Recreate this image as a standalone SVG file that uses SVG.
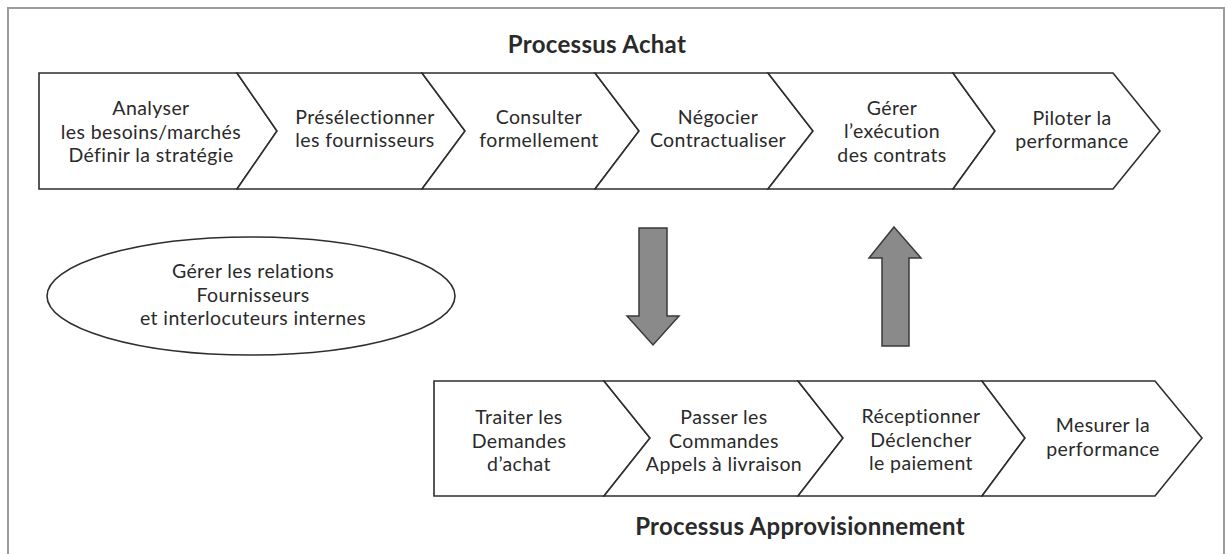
<svg xmlns="http://www.w3.org/2000/svg" width="1227" height="554" viewBox="0 0 1227 554">
<style>
.frame{fill:none;stroke:#9c9c9c;stroke-width:2}
.chev{fill:#fff;stroke:#2e2e2e;stroke-width:1.6;stroke-linejoin:miter}
.ell{fill:#fff;stroke:#2e2e2e;stroke-width:1.6}
.big{fill:#8a8a8a;stroke:#3a3a3a;stroke-width:1.5;stroke-linejoin:miter}
text{font-family:Lato,"Open Sans","Liberation Sans",sans-serif;fill:#2a2a2a;text-anchor:middle}
.t{font-size:19.5px;letter-spacing:0.4px}
.h{font-size:24px;font-weight:bold;letter-spacing:0.3px}
</style>
<rect width="1227" height="554" fill="#fff"/>
<rect class="frame" x="8" y="8" width="1216" height="570"/>
<text class="h" x="597" y="53">Processus Achat</text>
<text class="h" x="800" y="535">Processus Approvisionnement</text>
<g id="a1"><polygon class="chev" points="39,73 237,73 277,131 237,189 39,189"/>
<text class="t" x="151" y="115">Analyser</text><text class="t" x="151" y="138.5">les besoins/marchés</text><text class="t" x="151" y="162">Définir la stratégie</text></g>
<g id="a2"><polygon class="chev" points="237,73 422,73 465,131 422,189 237,189 277,131"/>
<text class="t" x="365" y="123.5">Présélectionner</text><text class="t" x="365" y="147">les fournisseurs</text></g>
<g id="a3"><polygon class="chev" points="422,73 595,73 639,131 595,189 422,189 465,131"/>
<text class="t" x="539" y="123.5">Consulter</text><text class="t" x="539" y="147">formellement</text></g>
<g id="a4"><polygon class="chev" points="595,73 768,73 813,131 768,189 595,189 639,131"/>
<text class="t" x="718" y="123.5">Négocier</text><text class="t" x="718" y="147">Contractualiser</text></g>
<g id="a5"><polygon class="chev" points="768,73 953,73 995,131 953,189 768,189 813,131"/>
<text class="t" x="892" y="114.5">Gérer</text><text class="t" x="892" y="138">l’exécution</text><text class="t" x="892" y="161.5">des contrats</text></g>
<g id="a6"><polygon class="chev" points="953,73 1113,73 1160,131 1113,189 953,189 995,131"/>
<text class="t" x="1072" y="124.5">Piloter la</text><text class="t" x="1072" y="148">performance</text></g>
<g id="rel"><ellipse class="ell" cx="251" cy="296" rx="204" ry="59"/>
<text class="t" x="253" y="278">Gérer les relations</text><text class="t" x="253" y="301.5">Fournisseurs</text><text class="t" x="253" y="325">et interlocuteurs internes</text></g>
<g id="b1"><polygon class="chev" points="434,381 604,381 650,438 604,496 434,496"/>
<text class="t" x="519" y="424">Traiter les</text><text class="t" x="519" y="447.5">Demandes</text><text class="t" x="519" y="471">d’achat</text></g>
<g id="b2"><polygon class="chev" points="604,381 798,381 843,438 798,496 604,496 650,438"/>
<text class="t" x="724" y="424">Passer les</text><text class="t" x="724" y="447.5">Commandes</text><text class="t" x="724" y="471">Appels à livraison</text></g>
<g id="b3"><polygon class="chev" points="798,381 982,381 1025,438 982,496 798,496 843,438"/>
<text class="t" x="921" y="423">Réceptionner</text><text class="t" x="921" y="446.5">Déclencher</text><text class="t" x="921" y="470">le paiement</text></g>
<g id="b4"><polygon class="chev" points="982,381 1155,381 1202,438 1155,496 982,496 1025,438"/>
<text class="t" x="1103" y="432">Mesurer la</text><text class="t" x="1103" y="455.5">performance</text></g>
<g id="connectors">
<polygon class="big" points="639,228 667,228 667,316 679,316 653,345 627,316 639,316"/>
<polygon class="big" points="894,227 921,258 909,258 909,346 882,346 882,258 869,258"/>
</g>
</svg>
